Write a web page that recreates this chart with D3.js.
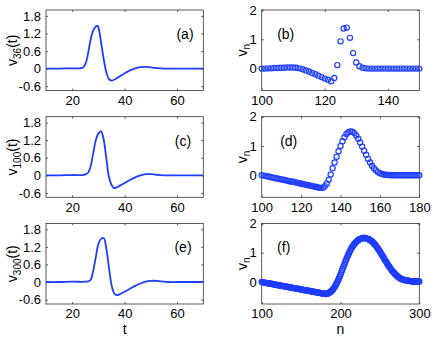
<!DOCTYPE html>
<html>
<head>
<meta charset="utf-8">
<script src="https://cdn.jsdelivr.net/npm/d3@7.9.0/dist/d3.min.js"></script>
<style>
  body { margin: 0; background: #fff; }
  svg text { font-family: "Liberation Sans", Arial, Helvetica, sans-serif; fill: #000; }
</style>
</head>
<body>
<svg width="436" height="337"></svg>
<script>
// left column: v_j(t) time traces
const tA = [10, 15, 20, 23, 24, 25, 26, 27, 28, 29, 29.7, 30.4, 31, 32, 33, 34, 35, 36, 38, 40, 42, 44, 46, 48, 50, 52, 55, 60, 65, 70];
const vA = [0, 0, 0.01, 0.01, 0.03, 0.15, 0.5, 0.98, 1.3, 1.44, 1.45, 1.24, 0.9, 0.33, -0.12, -0.36, -0.41, -0.38, -0.27, -0.16, -0.06, 0.01, 0.05, 0.06, 0.04, 0.02, 0, 0, 0, 0];

const tC = [10, 15, 20, 24, 25, 26, 27, 28, 29, 30, 31, 32, 33, 34, 35, 36, 37, 38, 40, 42, 44, 46, 48, 50, 52, 55, 60, 65, 70];
const vC = [0, 0, 0.01, 0.01, 0.03, 0.08, 0.3, 0.75, 1.2, 1.43, 1.5, 1.22, 0.58, -0.05, -0.33, -0.44, -0.41, -0.36, -0.26, -0.16, -0.07, 0, 0.04, 0.04, 0.02, 0, 0, 0, 0];

const tE = [10, 15, 20, 25, 26, 27, 28, 29, 30, 31, 32, 33, 34, 35, 36, 37, 38, 40, 42, 44, 46, 48, 50, 52, 54, 57, 60, 65, 70];
const vE = [0, 0, 0.01, 0.01, 0.02, 0.07, 0.38, 0.85, 1.3, 1.47, 1.5, 1.15, 0.5, -0.1, -0.38, -0.45, -0.42, -0.33, -0.23, -0.13, -0.05, 0.01, 0.04, 0.04, 0.02, 0, 0, 0, 0];

// right column: v_n snapshots, one value per site n
const nB = d3.range(100, 151);
const vB = [
  0.00, 0.00, 0.01, 0.01, 0.02, 0.02, 0.03, 0.03, 0.04, 0.04,
  0.04, 0.03, 0.01, -0.02, -0.06, -0.10, -0.15, -0.19, -0.24, -0.29,
  -0.34, -0.38, -0.43, -0.32, 0.12, 0.93, 1.37, 1.40, 1.05, 0.53,
  0.21, 0.08, 0.03, 0.01, 0, 0, 0, 0, 0, 0,
  0, 0, 0, 0, 0, 0, 0, 0, 0, 0,
  0
];

const nD = d3.range(100, 181);
const vD = [
  0.00, -0.01, -0.02, -0.04, -0.05, -0.07, -0.08, -0.10, -0.11, -0.12,
  -0.14, -0.15, -0.17, -0.18, -0.20, -0.21, -0.22, -0.24, -0.25, -0.27,
  -0.28, -0.30, -0.31, -0.33, -0.34, -0.36, -0.37, -0.39, -0.40, -0.42,
  -0.43, -0.42, -0.37, -0.29, -0.15, 0.03, 0.24, 0.44, 0.63, 0.82,
  1.00, 1.16, 1.30, 1.41, 1.47, 1.50, 1.49, 1.44, 1.36, 1.25,
  1.12, 0.98, 0.84, 0.70, 0.56, 0.44, 0.33, 0.24, 0.17, 0.11,
  0.07, 0.05, 0.03, 0.02, 0.01, 0.01, 0, 0, 0, 0,
  0, 0, 0, 0, 0, 0, 0, 0, 0, 0,
  0
];

const nF = d3.range(100, 301);
const vF = [
  0.00, -0.01, -0.01, -0.02, -0.02, -0.03, -0.03, -0.04, -0.04, -0.05,
  -0.05, -0.06, -0.06, -0.07, -0.07, -0.08, -0.08, -0.09, -0.09, -0.10,
  -0.10, -0.11, -0.11, -0.12, -0.12, -0.13, -0.13, -0.14, -0.14, -0.15,
  -0.15, -0.16, -0.16, -0.17, -0.17, -0.18, -0.18, -0.19, -0.19, -0.20,
  -0.20, -0.21, -0.21, -0.22, -0.22, -0.23, -0.23, -0.24, -0.24, -0.25,
  -0.25, -0.26, -0.26, -0.27, -0.27, -0.28, -0.28, -0.29, -0.29, -0.30,
  -0.30, -0.31, -0.31, -0.32, -0.32, -0.33, -0.33, -0.34, -0.34, -0.35,
  -0.35, -0.36, -0.36, -0.37, -0.37, -0.38, -0.38, -0.39, -0.39, -0.40,
  -0.40, -0.41, -0.41, -0.40, -0.39, -0.38, -0.36, -0.34, -0.32, -0.29,
  -0.26, -0.23, -0.19, -0.15, -0.10, -0.05, 0.00, 0.06, 0.12, 0.19,
  0.26, 0.33, 0.40, 0.47, 0.54, 0.61, 0.68, 0.75, 0.82, 0.88,
  0.94, 1.00, 1.06, 1.11, 1.16, 1.20, 1.24, 1.28, 1.31, 1.34,
  1.37, 1.40, 1.42, 1.44, 1.46, 1.47, 1.48, 1.49, 1.50, 1.50,
  1.50, 1.50, 1.49, 1.49, 1.48, 1.47, 1.46, 1.44, 1.42, 1.40,
  1.38, 1.36, 1.33, 1.30, 1.27, 1.24, 1.20, 1.16, 1.12, 1.08,
  1.04, 1.00, 0.95, 0.91, 0.86, 0.82, 0.77, 0.73, 0.69, 0.64,
  0.60, 0.56, 0.52, 0.48, 0.44, 0.40, 0.37, 0.34, 0.31, 0.28,
  0.25, 0.23, 0.20, 0.18, 0.16, 0.14, 0.12, 0.11, 0.10, 0.09,
  0.08, 0.07, 0.06, 0.06, 0.05, 0.05, 0.04, 0.04, 0.04, 0.03,
  0.03, 0.02, 0.02, 0.02, 0.02, 0.02, 0.02, 0.02, 0.02, 0.02,
  0.02
];

// ticks
const tTicks = [20, 40, 60];
const vTicksLeft = [-0.6, 0, 0.6, 1.2, 1.8];
const vTicksRight = [0, 1, 2];
const nTicksB = [100, 120, 140];
const nTicksD = [100, 120, 140, 160, 180];
const nTicksF = [100, 200, 300];

const blue = '#1f3dff';
const svg = d3.select('svg');

const rowTop = [10, 116.7, 223.4];
const rowH = 80.6;
const colLeft = [46, 261.7];
const colW = [157.3, 157.6];

const panels = [
  { row: 0, col: 0, kind: 'line', xs: tA, vs: vA, xDom: [10, 70], xTicks: tTicks, yTicks: vTicksLeft, tag: '(a)', sub: '36', tagX: 139 },
  { row: 0, col: 1, kind: 'dots', xs: nB, vs: vB, xDom: [100, 150], xTicks: nTicksB, yTicks: vTicksRight, tag: '(b)', tagX: 24 },
  { row: 1, col: 0, kind: 'line', xs: tC, vs: vC, xDom: [10, 70], xTicks: tTicks, yTicks: vTicksLeft, tag: '(c)', sub: '100', tagX: 137 },
  { row: 1, col: 1, kind: 'dots', xs: nD, vs: vD, xDom: [100, 180], xTicks: nTicksD, yTicks: vTicksRight, tag: '(d)', tagX: 27 },
  { row: 2, col: 0, kind: 'line', xs: tE, vs: vE, xDom: [10, 70], xTicks: tTicks, yTicks: vTicksLeft, tag: '(e)', sub: '300', tagX: 137, xlabel: 't' },
  { row: 2, col: 1, kind: 'dots', xs: nF, vs: vF, xDom: [100, 300], xTicks: nTicksF, yTicks: vTicksRight, tag: '(f)', tagX: 22, xlabel: 'n' }
];

panels.forEach((p) => {
  let x0 = colLeft[p.col], y0 = rowTop[p.row], w = colW[p.col], h = rowH;
  let x = d3.scaleLinear().domain(p.xDom).range([0, w]);
  let y = d3.scaleLinear().domain([-0.75, 2]).range([h, 0]);

  let g = svg.append('g').attr('transform', `translate(${x0},${y0})`);

  g.append('rect')
    .attr('width', w).attr('height', h)
    .attr('fill', 'none').attr('stroke', '#333').attr('stroke-width', 0.8);

  let fmt = (d) => String(d);

  // inward ticks on all four sides, labels bottom/left only
  let axes = [
    [d3.axisBottom(x).tickValues(p.xTicks).tickSize(-2).tickPadding(5).tickFormat(fmt), `translate(0,${h})`],
    [d3.axisTop(x).tickValues(p.xTicks).tickSize(-2).tickFormat(''), 'translate(0,0)'],
    [d3.axisLeft(y).tickValues(p.yTicks).tickSize(-2).tickPadding(5).tickFormat(fmt), 'translate(0,0)'],
    [d3.axisRight(y).tickValues(p.yTicks).tickSize(-2).tickFormat(''), `translate(${w},0)`]
  ];
  axes.forEach(([ax, tr]) => {
    let a = g.append('g').attr('transform', tr).call(ax);
    a.select('.domain').remove();
    a.selectAll('line').attr('stroke', '#333').attr('stroke-width', 0.8);
    a.selectAll('text').attr('font-size', 13).attr('fill', '#000')
      .attr('font-family', '"Liberation Sans", Arial, Helvetica, sans-serif');
  });

  if (p.kind === 'line') {
    let line = d3.line()
      .x((d) => x(d[0]))
      .y((d) => y(d[1]))
      .curve(d3.curveCatmullRom.alpha(0.5));
    g.append('path')
      .datum(p.xs.map((t, i) => [t, p.vs[i]]))
      .attr('d', line)
      .attr('fill', 'none')
      .attr('stroke', blue)
      .attr('stroke-width', 1.8);
  } else {
    g.selectAll('circle')
      .data(p.xs.map((n, i) => [n, p.vs[i]]))
      .join('circle')
      .attr('cx', (d) => x(d[0]))
      .attr('cy', (d) => y(d[1]))
      .attr('r', 2.6)
      .attr('fill', 'none')
      .attr('stroke', blue)
      .attr('stroke-width', 1.2);
  }

  // panel tag
  g.append('text')
    .attr('x', p.tagX).attr('y', 29)
    .attr('text-anchor', 'middle')
    .attr('font-size', 14)
    .text(p.tag);

  // y label
  let yl = svg.append('text')
    .attr('transform', `translate(${p.col === 0 ? 17 : 246.5},${y0 + h / 2}) rotate(-90)`)
    .attr('text-anchor', 'middle')
    .attr('font-size', 14);
  yl.append('tspan').text('v');
  yl.append('tspan').attr('font-size', 10).attr('dy', 3.5).text(p.sub || 'n');
  if (p.col === 0) yl.append('tspan').attr('dy', -3.5).text('(t)');

  if (p.xlabel) {
    svg.append('text')
      .attr('x', x0 + w / 2).attr('y', 334)
      .attr('text-anchor', 'middle')
      .attr('font-size', 14)
      .text(p.xlabel);
  }
});
</script>
</body>
</html>
